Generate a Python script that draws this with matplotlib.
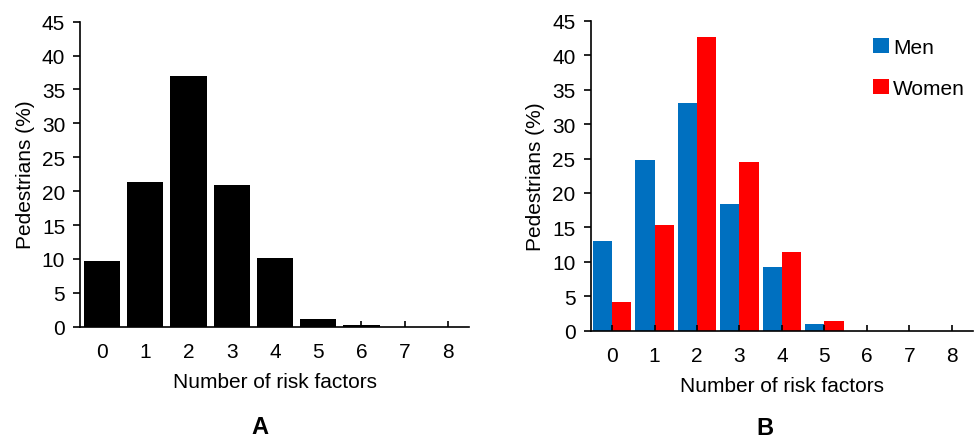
import numpy as np
import matplotlib.pyplot as plt

plt.rcParams['font.family'] = ['Liberation Sans', 'DejaVu Sans']

# data
factors = ['0', '1', '2', '3', '4', '5', '6', '7', '8']
total = [9.7, 21.3, 37.0, 20.9, 10.2, 1.2, 0.3, 0.0, 0.0]
men = [13.0, 24.8, 33.1, 18.4, 9.3, 1.0, 0.0, 0.0, 0.0]
women = [4.2, 15.3, 42.7, 24.5, 11.5, 1.4, 0.0, 0.0, 0.0]

fs = 15
fig = plt.figure(figsize=(9.75, 4.39), dpi=100)
axA = fig.add_axes([0.0825, 0.2535, 0.399, 0.695])
axB = fig.add_axes([0.606, 0.2444, 0.392, 0.706])

x = np.arange(len(factors))

# panel A
axA.bar(x, total, width=0.84, color='black')

# panel B
w = 0.45
axB.bar(x - w / 2, men, width=w, color='#0070C0', label='Men')
axB.bar(x + w / 2, women, width=w, color='#FF0000', label='Women')

for ax in (axA, axB):
    ax.set_xlim(-0.5, 8.5)
    ax.set_ylim(0, 45)
    ax.set_yticks(range(0, 46, 5))
    ax.set_xticks(x)
    ax.set_xticklabels(factors)
    ax.spines['top'].set_visible(False)
    ax.spines['right'].set_visible(False)
    ax.spines['left'].set_linewidth(1.2)
    ax.spines['bottom'].set_linewidth(1.2)
    ax.tick_params(axis='x', direction='in', length=4, width=1.2,
                   labelsize=fs, pad=11)
    ax.tick_params(axis='y', direction='out', length=5, width=1.2,
                   labelsize=fs, pad=6)
    ax.set_xlabel('Number of risk factors', fontsize=fs, labelpad=8)
    ax.set_ylabel('Pedestrians (%)', fontsize=fs, labelpad=5)

axB.legend(loc='upper left', bbox_to_anchor=(0.887, 0.93),
           bbox_transform=fig.transFigure, frameon=False, fontsize=fs,
           handlelength=0.75, handleheight=0.75, handletextpad=0.2,
           labelspacing=1.05, borderaxespad=0)

fig.text(0.267, 0.026, 'A', fontsize=17, fontweight='bold', ha='center', va='center')
fig.text(0.785, 0.024, 'B', fontsize=17, fontweight='bold', ha='center', va='center')

fig.savefig('out.png', dpi=100)
